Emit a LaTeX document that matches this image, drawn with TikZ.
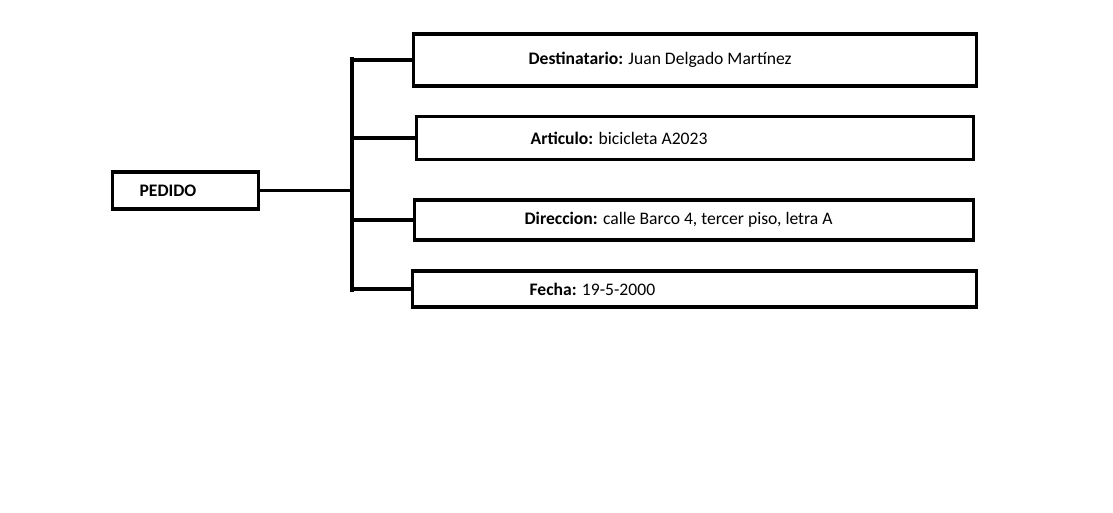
\documentclass[tikz,border=0pt]{standalone}
\usepackage{fontspec}
\setmainfont{Carlito}
\usepackage{tikz}

\begin{document}
\begin{tikzpicture}[
    x=0.75pt, y=-0.75pt,
    campo/.style={
        rectangle,
        draw,
        line width=2.4pt,
        align=flush left,
        inner ysep=0pt,
        font=\fontsize{13.2pt}{15pt}\selectfont,
        anchor=west
    },
    rama/.style={
        line width=2.4pt
    }
]
\useasboundingbox (0,0) rectangle (1113,513);

% === Raiz ===
\node[campo, minimum width=109.5pt, minimum height=27.75pt, inner xsep=20.25pt, text width=69pt] (pedido) at (111,190.5) {\textbf{PEDIDO}};

% === Campos ===
\node[campo, minimum width=422.25pt, minimum height=39pt, inner xsep=86.25pt, text width=249.75pt] (destinatario) at (412,60) {\textbf{Destinatario:} Juan Delgado Martínez};
\node[campo, minimum width=417.75pt, minimum height=32.25pt, inner xsep=85.5pt, text width=246.75pt] (articulo) at (415,138) {\textbf{Articulo:} bicicleta A2023};
\node[campo, minimum width=419.25pt, minimum height=30pt, inner xsep=82.5pt, text width=254.25pt] (direccion) at (413,220) {\textbf{Direccion:} calle Barco 4, tercer piso, letra A};
\node[campo, minimum width=423pt, minimum height=27pt, inner xsep=87.75pt, text width=247.5pt] (fecha) at (411,289) {\textbf{Fecha:} 19-5-2000};

% === Llave ===
\coordinate (llave-arriba) at (352,57);
\coordinate (llave-abajo) at (352,292);
\draw[rama] (llave-arriba) -- (llave-abajo);
\draw[rama] (pedido.east) -- (pedido.east -| llave-arriba);
\draw[rama] (llave-arriba |- destinatario.west) -- (destinatario.west);
\draw[rama] (llave-arriba |- articulo.west) -- (articulo.west);
\draw[rama] (llave-arriba |- direccion.west) -- (direccion.west);
\draw[rama] (llave-arriba |- fecha.west) -- (fecha.west);
\end{tikzpicture}
\end{document}
